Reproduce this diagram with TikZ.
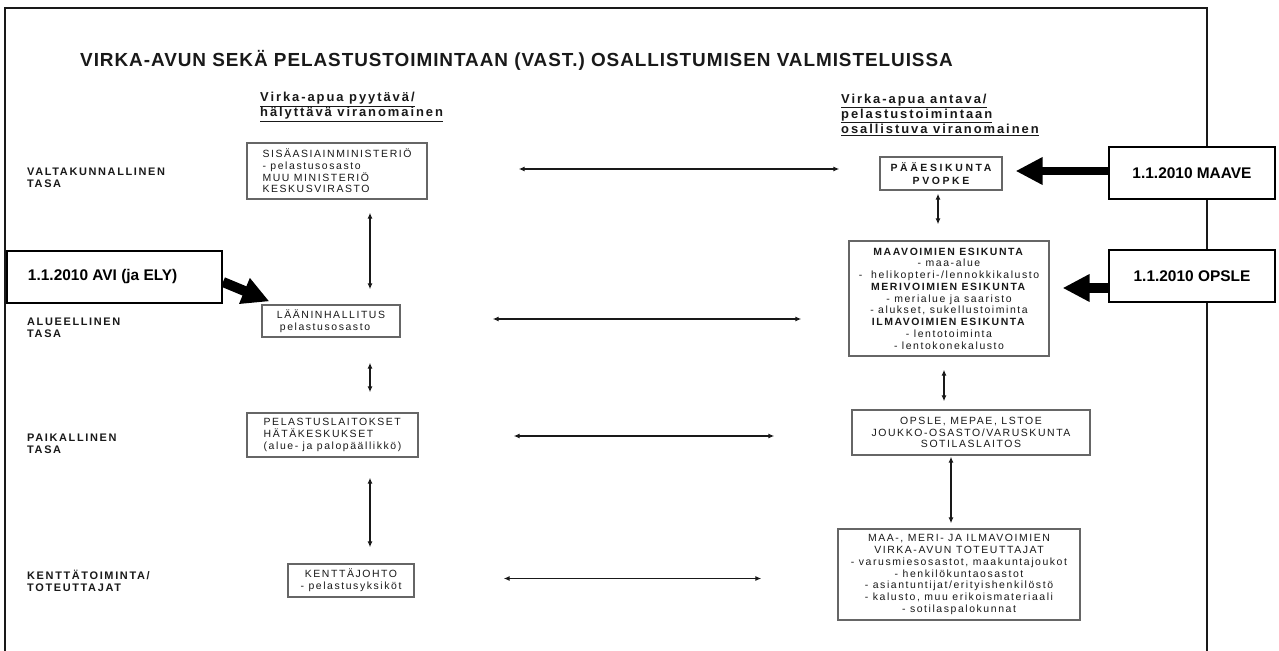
\documentclass[tikz,border=0pt]{standalone}
\usepackage{fontspec}
\setmainfont{Liberation Sans}
\newfontfamily\trka[LetterSpace=15]{Liberation Sans}
\newfontfamily\trkb[LetterSpace=15]{Liberation Sans}
\newfontfamily\trkp[LetterSpace=25]{Liberation Sans}
\newfontfamily\trkt[LetterSpace=5]{Liberation Sans}
\usetikzlibrary{arrows.meta}
\begin{document}
\begin{tikzpicture}[x=1bp,y=-1bp,
  box/.style={draw=black!60, line width=1.3bp, inner sep=0pt, text=black!90,
    font=\trka\fontsize{10.5}{11.8}\selectfont, align=center},
  lbl/.style={anchor=west, align=left, inner sep=0pt, text=black!90,
    font=\trka\bfseries\fontsize{11}{12.3}\selectfont},
  hdr/.style={anchor=west, align=left, inner sep=0pt, text=black!90,
    font=\trkb\bfseries\fontsize{13}{14}\selectfont},
  tag/.style={draw=black, line width=2bp, fill=white, inner sep=0pt,
    font=\bfseries\fontsize{15.5}{18}\selectfont},
  dbl/.style={{Latex[length=6bp,width=5bp]}-{Latex[length=6bp,width=5bp]},
    line width=1.9bp, draw=black!90},
  fat/.style={-{Triangle[length=27bp,width=26bp]}, line width=9bp, draw=black}]
\useasboundingbox (0,0) rectangle (1279,651);
\fill[white] (0,0) rectangle (1279,651);

% frame
\draw[line width=2.4bp, black!90] (5,660) -- (5,8) -- (1207,8) -- (1207,660);

% title
\node[anchor=west, inner sep=0pt, text=black!90, font=\trkt\bfseries\fontsize{19}{22}\selectfont] (title) at (80,60)
  {VIRKA-AVUN SEKÄ PELASTUSTOIMINTAAN (VAST.) OSALLISTUMISEN VALMISTELUISSA};

% headers
\node[hdr] (hl) at (260,107) {\underline{Virka-apua pyytävä/}\\\underline{hälyttävä viranomainen}};
\node[hdr] (hr) at (841,114.5) {\underline{Virka-apua antava/}\\\underline{pelastustoimintaan}\\\underline{osallistuva viranomainen}};

% level labels
\node[lbl] (l1) at (27,178) {VALTAKUNNALLINEN\\TASA};
\node[lbl] (l2) at (27,328) {ALUEELLINEN\\TASA};
\node[lbl] (l3) at (27,443.5) {PAIKALLINEN\\TASA};
\node[lbl] (l4) at (27,581) {KENTTÄTOIMINTA/\\TOTEUTTAJAT};

% left column
\node[box, align=left, minimum width=180bp, minimum height=56bp] (sis) at (337,171)
  {SISÄASIAINMINISTERIÖ\\- pelastusosasto\\MUU MINISTERIÖ\\KESKUSVIRASTO};
\node[box, align=left, minimum width=138bp, minimum height=32bp] (laan) at (331,321)
  {LÄÄNINHALLITUS\\\hspace*{3bp}pelastusosasto};
\node[box, align=left, minimum width=171bp, minimum height=44bp] (pel) at (332.5,435)
  {PELASTUSLAITOKSET\\HÄTÄKESKUKSET\\(alue- ja palopäällikkö)};
\node[box, minimum width=126bp, minimum height=33bp] (kent) at (351,580.5)
  {KENTTÄJOHTO\\- pelastusyksiköt};

% right column
\node[box, minimum width=122bp, minimum height=33bp,
  font=\trkp\bfseries\fontsize{10.5}{12.5}\selectfont] (paa) at (941,173.5)
  {PÄÄESIKUNTA\\PVOPKE};
\node[box, minimum width=200bp, minimum height=115bp] (maav) at (949,298.5)
  {\textbf{MAAVOIMIEN ESIKUNTA}\\- maa-alue\\- \ helikopteri-/lennokkikalusto\\\textbf{MERIVOIMIEN ESIKUNTA}\\- merialue ja saaristo\\- alukset, sukellustoiminta\\\textbf{ILMAVOIMIEN ESIKUNTA}\\- lentotoiminta\\- lentokonekalusto};
\node[box, minimum width=238bp, minimum height=45bp] (opb) at (971,432.5)
  {OPSLE, MEPAE, LSTOE\\JOUKKO-OSASTO/VARUSKUNTA\\SOTILASLAITOS};
\node[box, minimum width=242bp, minimum height=91bp] (maa) at (959,574.5)
  {MAA-, MERI- JA ILMAVOIMIEN\\VIRKA-AVUN TOTEUTTAJAT\\- varusmiesosastot, maakuntajoukot\\- henkilökuntaosastot\\- asiantuntijat/erityishenkilöstö\\- kalusto, muu erikoismateriaali\\- sotilaspalokunnat};

% tags
\node[tag, minimum width=166bp, minimum height=52bp] (maave) at (1192,173) {1.1.2010 MAAVE};
\node[tag, minimum width=166bp, minimum height=52bp] (opsle) at (1192,276) {1.1.2010 OPSLE};
\node[tag, minimum width=215bp, minimum height=52bp] (avi) at (114.5,277) {\makebox[173bp][l]{1.1.2010 AVI (ja ELY)}};

% vertical arrows left
\coordinate (lx) at (370,0);
\draw[dbl, shorten <=13bp, shorten >=15bp] (sis.south -| lx) -- (laan.north -| lx);
\draw[dbl, shorten <=25bp, shorten >=20bp] (laan.south -| lx) -- (pel.north -| lx);
\draw[dbl, shorten <=20bp, shorten >=16bp] (pel.south -| lx) -- (kent.north -| lx);

% vertical arrows right
\coordinate (r1) at (938,0);
\coordinate (r2) at (944,0);
\coordinate (r3) at (951,0);
\draw[dbl, shorten <=3bp, shorten >=16bp] (paa.south -| r1) -- (maav.north -| r1);
\draw[dbl, shorten <=13bp, shorten >=8bp] (maav.south -| r2) -- (opb.north -| r2);
\draw[dbl, shorten <=1bp, shorten >=5bp] (opb.south -| r3) -- (maa.north -| r3);

% horizontal arrows
\draw[dbl, shorten <=91bp, shorten >=40bp] ([yshift=2bp]sis.east) -- ([yshift=2bp]sis.east -| paa.west);
\draw[dbl, shorten <=92bp, shorten >=47bp] ([yshift=2bp]laan.east) -- ([yshift=2bp]laan.east -| maav.west);
\draw[dbl, shorten <=95bp, shorten >=77bp] ([yshift=-1bp]pel.east) -- ([yshift=-1bp]pel.east -| opb.west);
\draw[dbl, shorten <=89bp, shorten >=76bp] ([yshift=2bp]kent.east) -- ([yshift=2bp]kent.east -| maa.west);

% fat arrows
\draw[fat, line width=8.5bp, shorten >=13bp] ([yshift=2bp]maave.west) -- ([yshift=2bp]maave.west -| paa.east);
\draw[fat, line width=9.5bp, shorten >=13bp] ([yshift=-12bp]opsle.west) -- ([yshift=-12bp]opsle.west -| maav.east);
\draw[fat, line width=10bp] ([yshift=-5bp]avi.east) -- ([shift={(8bp,3bp)}]laan.north west);
\end{tikzpicture}
\end{document}
